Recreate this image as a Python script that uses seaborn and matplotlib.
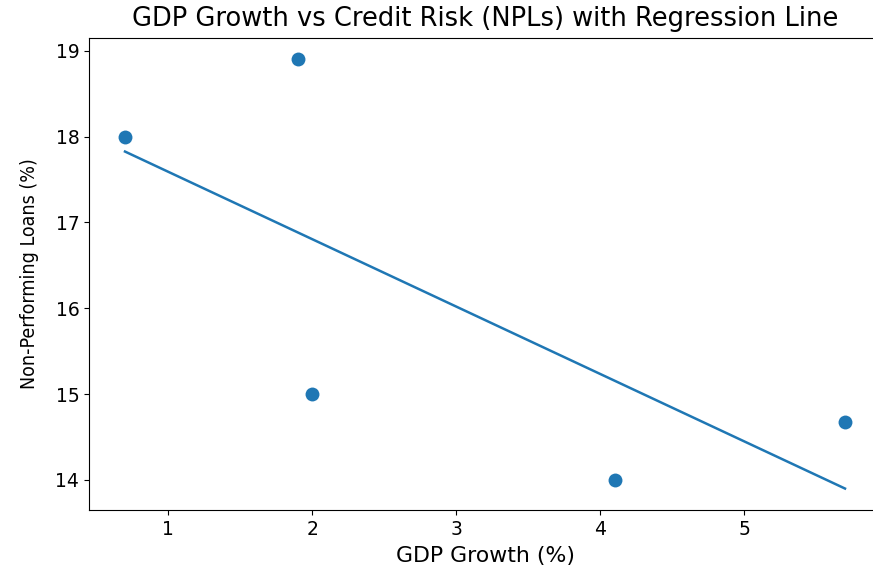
import matplotlib
matplotlib.use('Agg')
import matplotlib.pyplot as plt
import numpy as np
import pandas as pd
import seaborn as sns

gdp_growth = [0.7, 1.9, 2.0, 4.1, 5.7]
npl_ratio = [18.0, 18.9, 15.0, 14.0, 14.67]

df = pd.DataFrame({'gdp': gdp_growth, 'npl': npl_ratio})

# regression line fitted on the data
slope, intercept = np.polyfit(df['gdp'], df['npl'], 1)
df['fit'] = slope * df['gdp'] + intercept

fig = plt.figure(figsize=(8.73, 5.65), dpi=100)
ax = fig.add_axes([89 / 873, 55 / 565, 792 / 873, 472 / 565])

sns.scatterplot(x='gdp', y='npl', data=df, ax=ax, color='#1f77b4', s=100, linewidth=0)
sns.lineplot(x='gdp', y='fit', data=df, ax=ax, color='#1f77b4', linewidth=1.8)

ax.set_title('GDP Growth vs Credit Risk (NPLs) with Regression Line', fontsize=18.5, pad=9)
ax.set_xlabel('GDP Growth (%)', fontsize=15.8, labelpad=5)
ax.set_ylabel('Non-Performing Loans (%)', fontsize=14, fontstretch='condensed', labelpad=12)
ax.tick_params(labelsize=13.5)

fig.savefig('out.png', dpi=100)
